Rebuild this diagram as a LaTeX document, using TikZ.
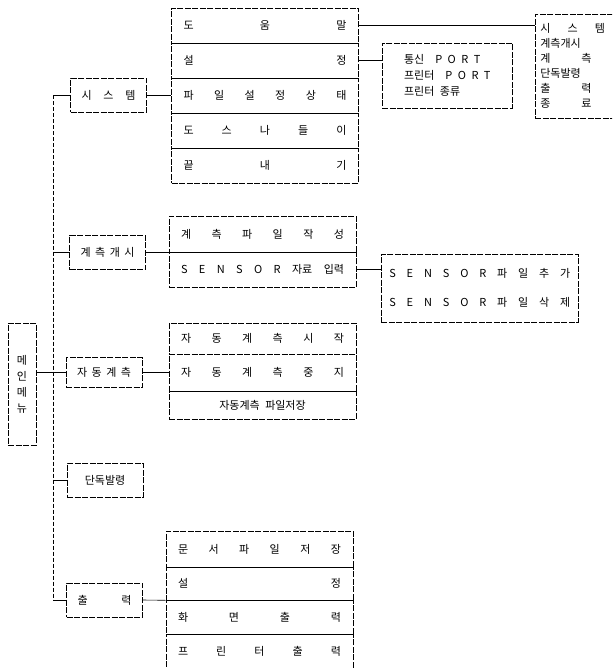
\documentclass[tikz,border=0pt]{standalone}
\usepackage{fontspec}
\newfontfamily\kr{Noto Sans CJK KR}
\usepackage{tikz}

\tikzset{
  menubox/.style={draw, dash pattern=on 6pt off 1.5pt, line width=0.6pt, font=\kr\fontsize{11pt}{13pt}\selectfont},
  lvone/.style={menubox, text width=54pt, inner xsep=11pt, minimum height=34pt, inner ysep=0pt},
  rowbox/.style={menubox, text width=163pt, inner xsep=12pt, inner ysep=0pt, minimum height=#1},
  rowbox/.default=35pt,
  link/.style={line width=0.6pt}
}

\begin{document}
\begin{tikzpicture}[x=1pt,y=-1pt]
\clip (0,0) rectangle (612,668);

% root
\node[menubox, minimum width=28pt, minimum height=122pt, inner sep=0pt, align=center] (root) at (22,384) {메\\[3pt]인\\[3pt]메\\[3pt]뉴};

% first level
\node[lvone] (sys) at (108.5,95.5) {시\hfill 스\hfill 템};
\node[lvone] (meas) at (107.5,252.5) {계\hfill 측\hfill 개\hfill 시};
\node[lvone, minimum height=30pt] (auto) at (104,372.5) {자\hfill 동\hfill 계\hfill 측};
\node[lvone, align=center] (alone) at (105,480) {단독발령};
\node[lvone] (out) at (104.5,600) {출\hfill 력};

\coordinate (bustop) at (53,95.5);
\coordinate (busbot) at (53,600);
\draw[link, dash pattern=on 4pt off 2pt] (bustop) -- (busbot);
\draw[link] (sys.west) -- (bustop);
\draw[link] (meas.west) -- (meas.west -| bustop);
\draw[link] (root.east |- auto.west) -- (auto.west);
\draw[link] (alone.west) -- (alone.west -| bustop);
\draw[link] (out.west) -- (busbot);

% system menu
\node[rowbox] (sa) at (265,25.5) {도\hfill 움\hfill 말};
\node[rowbox] (sb) at (265,60.5) {설\hfill 정};
\node[rowbox] (sc) at (265,95.5) {파\hfill 일\hfill 설\hfill 정\hfill 상\hfill 태};
\node[rowbox] (sd) at (265,130.5) {도\hfill 스\hfill 나\hfill 들\hfill 이};
\node[rowbox] (se) at (265,165.5) {끝\hfill 내\hfill 기};
\draw[link] (sys.east) -- (sc.west);

% settings
\node[menubox, minimum width=130pt, minimum height=65pt, inner xsep=4pt, align=left, anchor=west] (port) at (382,75.5)
  {통신\quad P\enspace O\enspace R\enspace T\\[3pt]프린터\quad P\enspace O\enspace R\enspace T\\[3pt]프린터\enspace 종류};
\draw[link] (sb.east) -- (sb.east -| port.west);

% help
\node[menubox, text width=82pt, inner xsep=5pt, minimum height=104pt, anchor=north west] (help) at (535,14)
  {시\hfill 스\hfill 템\hfill\mbox{}\\[2pt]계측개시\\[2pt]계\hfill 측\hfill\mbox{}\\[2pt]단독발령\\[2pt]출\hfill 력\hfill\mbox{}\\[2pt]종\hfill 료\hfill\mbox{}};
\draw[link] (sa.east) -- (sa.east -| help.west);

% measuring menu
\node[rowbox=36pt] (ma) at (262.5,234) {계\hfill 측\hfill 파\hfill 일\hfill 작\hfill 성};
\node[rowbox] (mb) at (262.5,269.5) {S\hfill E\hfill N\hfill S\hfill O\hfill R\hfill 자료\hfill 입력};
\draw[link] (meas.east) -- (meas.east -| ma.west);

\node[menubox, text width=181pt, inner xsep=8pt, minimum height=68pt, anchor=west] (sensor) at (381,288)
  {S\hfill E\hfill N\hfill S\hfill O\hfill R\hfill 파\hfill 일\hfill 추\hfill 가\\[16pt]S\hfill E\hfill N\hfill S\hfill O\hfill R\hfill 파\hfill 일\hfill 삭\hfill 제};
\draw[link] (mb.east) -- (mb.east -| sensor.west);

% auto menu
\node[rowbox=31pt] (aa) at (262.5,338.5) {자\hfill 동\hfill 계\hfill 측\hfill 시\hfill 작};
\node[rowbox=37pt] (ab) at (262.5,372.5) {자\hfill 동\hfill 계\hfill 측\hfill 중\hfill 지};
\node[rowbox=28pt, align=center] (ac) at (262.5,405) {자동계측\enspace 파일저장};
\draw[link] (auto.east) -- (ab.west);

% output menu
\node[rowbox=36pt] (oa) at (259.5,549) {문\hfill 서\hfill 파\hfill 일\hfill 저\hfill 장};
\node[rowbox=33pt] (ob) at (259.5,583.5) {설\hfill 정};
\node[rowbox=34pt] (oc) at (259.5,617) {화\hfill 면\hfill 출\hfill 력};
\node[rowbox=34pt] (od) at (259.5,651) {프\hfill 린\hfill 터\hfill 출\hfill 력};
\draw[link] (out.east) -- (ob.south west);
\end{tikzpicture}
\end{document}
